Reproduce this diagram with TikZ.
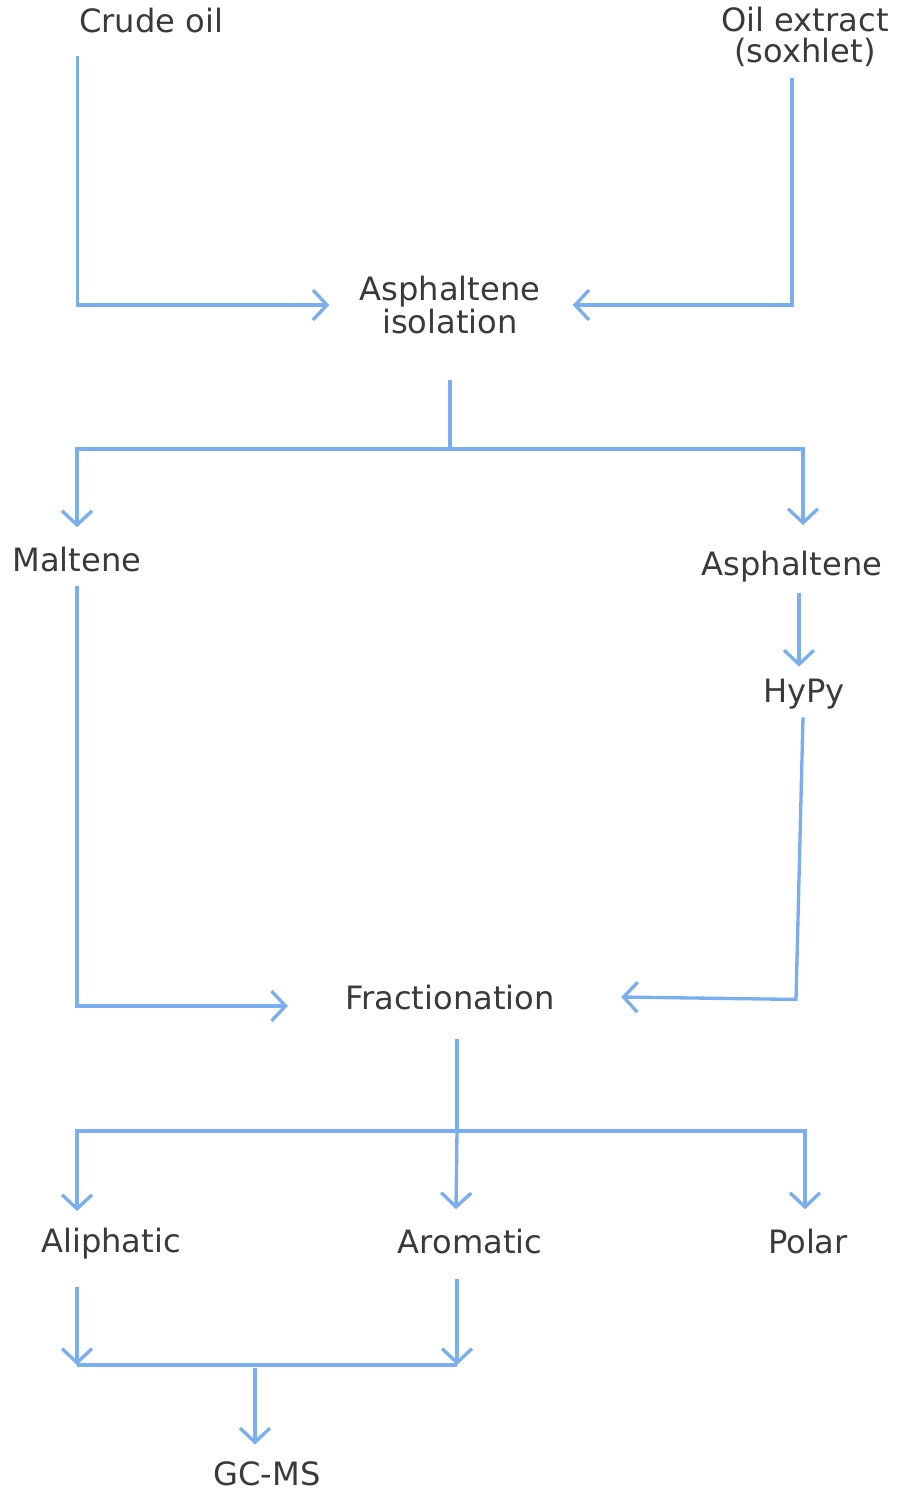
\documentclass[tikz,border=0pt]{standalone}
\usepackage{xcolor}
\usepackage{fontspec}
\setmainfont{DejaVu Sans}
\usepackage{tikz}
\usetikzlibrary{calc,arrows.meta}
\definecolor{labelgray}{HTML}{3A3A3A}
\definecolor{linkblue}{HTML}{7AAEEE}

\begin{document}
\begin{tikzpicture}[
        x=0.02cm, y=-0.02cm,
        lbl/.style={
            text=labelgray,
            font=\fontsize{18.3}{17.6}\selectfont,
            inner sep=0pt,
            align=center
        },
        link/.style={draw=linkblue, line width=1.9pt},
        flow/.style={link, -{Straight Barb[length=8pt,width=17pt,line width=1.9pt]}}
    ]
        \useasboundingbox (0,0) rectangle (898,1492);
        \node[lbl] (crude) at (151,21) {Crude oil};
        \node[lbl] (extract) at (805,37) {Oil extract\\(soxhlet)};
        \node[lbl] (isol) at (450,305) {Asphaltene\\isolation};
        \node[lbl] (malt) at (77,560) {Maltene};
        \node[lbl] (asph) at (792,567) {Asphaltene};
        \node[lbl] (hypy) at (804,694) {HyPy};
        \node[lbl] (frac) at (450,997) {Fractionation};
        \node[lbl] (aliph) at (111,1244) {Aliphatic};
        \node[lbl] (arom) at (470,1241) {Aromatic};
        \node[lbl] (polar) at (808,1241) {Polar};
        \node[lbl] (gcms) at (267,1474) {GC-MS};
        \coordinate (split1) at (450,449);
        \coordinate (split2) at (457,1131);
        \coordinate (joinL) at (77,1365);
        \coordinate (joinR) at (457,1365);
        \coordinate (join) at (255,1365);
        \draw[flow] ($(crude.south west)+(-1,22)$) |- ($(isol.west)+(-30,0)$);
        \draw[flow] ($(extract.south)+(-13,11)$) |- ($(isol.east)+(32,0)$);
        \draw[link] ($(isol.south)+(0,46)$) -- (split1);
        \draw[flow] (split1) -| ($(malt.north)+(0,-20)$);
        \draw[flow] (split1) -| ($(asph.north)+(11,-26)$);
        \draw[flow] ($(asph.south)+(7,10)$) -- ($(hypy.north)+(-5,-12)$);
        \draw[flow] ($(hypy.south)+(-1,8)$) -- ++(-7,282) -- ($(frac.east)+(66,0)$);
        \draw[flow] ($(malt.south)+(0,13)$) |- ($(frac.west)+(-57,9)$);
        \draw[link] ($(frac.south)+(7,29)$) -- (split2);
        \draw[flow] (split2) -| ($(aliph.north)+(-34,-17)$);
        \draw[flow] (split2) -- ($(arom.north)+(-14,-19)$);
        \draw[flow] (split2) -| ($(polar.north)+(-3,-19)$);
        \draw[flow] ($(aliph.south)+(-34,27)$) -- (joinL);
        \draw[flow] ($(arom.south)+(-13,25)$) -- (joinR);
        \draw[link] (joinL) -- (joinR);
        \draw[flow] ($(join)+(0,3)$) -- ($(gcms.north)+(-12,-17)$);
    \end{tikzpicture}
\end{document}
